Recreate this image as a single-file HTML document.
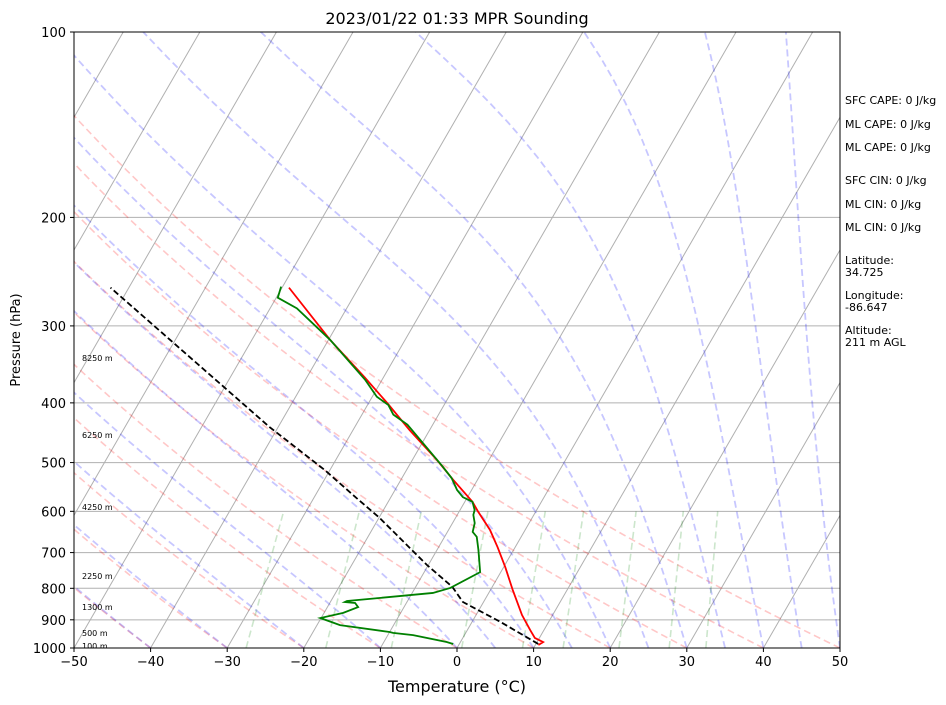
<!DOCTYPE html>
<html><head><meta charset="utf-8"><style>
html,body{margin:0;padding:0;background:#fff;}
svg{display:block;font-family:"DejaVu Sans","Liberation Sans",sans-serif;}
</style></head><body>
<svg id="chart" width="946" height="705" xmlns="http://www.w3.org/2000/svg">
<defs><clipPath id="plotclip"><rect x="74" y="32" width="766" height="616"/></clipPath></defs>
<rect width="946" height="705" fill="#fff"/>
<text x="457" y="24" font-size="16" text-anchor="middle">2023/01/22 01:33 MPR Sounding</text>
<g id="plot" clip-path="url(#plotclip)"></g>
<g id="axes"></g>
<text x="457" y="692" font-size="16" text-anchor="middle">Temperature (°C)</text>
<text transform="translate(20,340) rotate(-90)" font-size="13" text-anchor="middle">Pressure (hPa)</text>
<g font-size="11">
<text x="845" y="104">SFC CAPE: 0 J/kg</text>
<text x="845" y="128">ML CAPE: 0 J/kg</text>
<text x="845" y="151">ML CAPE: 0 J/kg</text>
<text x="845" y="184">SFC CIN: 0 J/kg</text>
<text x="845" y="208">ML CIN: 0 J/kg</text>
<text x="845" y="231">ML CIN: 0 J/kg</text>
<text x="845" y="264">Latitude:</text>
<text x="845" y="276">34.725</text>
<text x="845" y="299">Longitude:</text>
<text x="845" y="311">-86.647</text>
<text x="845" y="334">Altitude:</text>
<text x="845" y="346">211 m AGL</text>
</g>
</svg>
<script>
// Data arrays
const tempP = [989,978,963,935,884,805,739,686,643,601,579,533,495,443,400,364,316,260];
const tempT = [10.4,10.8,9.4,8.2,6.0,2.9,0.2,-2.3,-4.6,-7.5,-9.0,-13.2,-16.8,-22.6,-27.6,-32.4,-39.8,-49.1];
const dewP = [985,978,953,945,942,918,894,877,858,845,842,839,814,799,753,693,660,648,627,608,597,579,569,554,530,508,434,418,403,391,367,316,281,270,259];
const dewT = [-0.8,-1.8,-6.7,-9.5,-10,-17.0,-20.1,-17.5,-16,-16.7,-18.1,-17.9,-7.3,-5.4,-2.7,-4.6,-5.8,-6.7,-7.1,-7.9,-8.1,-9.0,-10.6,-11.9,-13.5,-15.5,-23.3,-25.9,-27.3,-29.4,-32.2,-39.8,-46.5,-49.8,-50.2];
const parcelP = [985,907,842,796,733,615,573,514,438,260];
const parcelT = [10.3,3.7,-2.7,-5.2,-10.2,-19.9,-24.2,-30.7,-41.1,-72.4];
const xTicks = [-50,-40,-30,-20,-10,0,10,20,30,40,50];
const pTicks = [100,200,300,400,500,600,700,800,900,1000];
const altLabels = ["8250 m","6250 m","4250 m","2250 m","1300 m","500 m","100 m"];
const altP = [338,451,590,764,858,945,993];
const dryT0 = [-100,-90,-80,-70,-60,-50,-40,-30,-20,-10,0,10,20,30,40,50];
const moistT0 = [-50,-40,-30,-20,-10,0,5,10,15,20,25,30,35,40,45,50];
const mixW = [0.0004,0.001,0.002,0.004,0.007,0.01,0.016,0.024,0.032];

const X0=74,X1=840,Y0=32,Y1=648,TMIN=-50,TMAX=50;
const PXT=(X1-X0)/(TMAX-TMIN), SKEW=Math.tan(30*Math.PI/180);
function yOf(p){return Y1-Math.log10(1000/p)*(Y1-Y0);}
function xOf(t,p){return X0+(t-TMIN)*PXT+(Y1-yOf(p))*SKEW;}
const NS="http://www.w3.org/2000/svg";
const plot=document.getElementById('plot'), axes=document.getElementById('axes');
function mk(tag,attrs,parent){const e=document.createElementNS(NS,tag);for(const k in attrs)e.setAttribute(k,attrs[k]);parent.appendChild(e);return e;}
function pathFrom(ps,ts){return ps.map((p,i)=>(i?'L':'M')+xOf(ts[i],p).toFixed(2)+','+yOf(p).toFixed(2)).join('');}

pTicks.forEach(p=>{
  const l=mk('line',{x1:X0,x2:X1,y1:yOf(p),y2:yOf(p),stroke:'#b0b0b0','stroke-width':1},plot);
  
  
});
for(let t=-110;t<=50;t+=10){
  const l=mk('line',{x1:xOf(t,1000),y1:Y1,x2:xOf(t,100),y2:Y0,stroke:'#b0b0b0','stroke-width':1},plot);
  
  
}
const pr=[];for(let p=1000;p>=100;p-=10)pr.push(p);
dryT0.forEach(t0=>{
  const th=t0+273.15;
  const ts=pr.map(p=>th*Math.pow(p/1000,0.2857)-273.15);
  const e=mk('path',{d:pathFrom(pr,ts),fill:'none',stroke:'rgba(255,0,0,0.22)','stroke-width':1.6,'stroke-dasharray':'7,4'},plot);
  
  
});
function es(tc){return 6.112*Math.exp(17.67*tc/(tc+243.5));}
moistT0.forEach(t0=>{
  let T=t0+273.15;const ps=[],ts=[];
  for(let p=1000;p>=100;p-=1){
    if(p%10===0){ps.push(p);ts.push(T-273.15);}
    const e=es(T-273.15), rs=0.622*e/(p-e);
    const d=(287.04*T+2.501e6*rs)/(p*(1005.7+2.501e6*2.501e6*rs*0.622/(287.04*T*T)));
    T-=d;
  }
  const el=mk('path',{d:pathFrom(ps,ts),fill:'none',stroke:'rgba(0,0,255,0.22)','stroke-width':1.8,'stroke-dasharray':'7,4'},plot);
  
  
});
mixW.forEach(w=>{
  const ps=[1000,600];
  const ts=ps.map(p=>{const e=p*w/(0.622+w);const a=Math.log(e/6.112);return 243.5*a/(17.67-a);});
  const el=mk('path',{d:pathFrom(ps,ts),fill:'none',stroke:'rgba(0,128,0,0.2)','stroke-width':1.6,'stroke-dasharray':'7,4'},plot);
  
  
});
let el=mk('path',{d:pathFrom(parcelP,parcelT),fill:'none',stroke:'#000','stroke-width':1.8,'stroke-dasharray':'6,3'},plot);


el=mk('path',{d:pathFrom(tempP,tempT),fill:'none',stroke:'#ff0000','stroke-width':1.8},plot);


el=mk('path',{d:pathFrom(dewP,dewT),fill:'none',stroke:'#008000','stroke-width':1.8},plot);


altLabels.forEach((s,i)=>{
  const t=mk('text',{x:82,y:yOf(altP[i])+3,'font-size':8},plot);
  t.textContent=s;
  
  
});
el=mk('rect',{x:X0,y:Y0,width:X1-X0,height:Y1-Y0,fill:'none',stroke:'#000','stroke-width':1},axes);


xTicks.forEach(t=>{
  const x=X0+(t-TMIN)*PXT;
  mk('line',{x1:x,x2:x,y1:Y1,y2:Y1+4,stroke:'#000'},axes);
  const tx=mk('text',{x:x,y:Y1+18,'font-size':13,'text-anchor':'middle'},axes);
  tx.textContent=(t<0?'\u2212':'')+Math.abs(t);
  
  
});
pTicks.forEach(p=>{
  const y=yOf(p);
  mk('line',{x1:X0-4,x2:X0,y1:y,y2:y,stroke:'#000'},axes);
  const tx=mk('text',{x:X0-8,y:y+5,'font-size':13,'text-anchor':'end'},axes);
  tx.textContent=p;
  
  
});
</script>
</body></html>
